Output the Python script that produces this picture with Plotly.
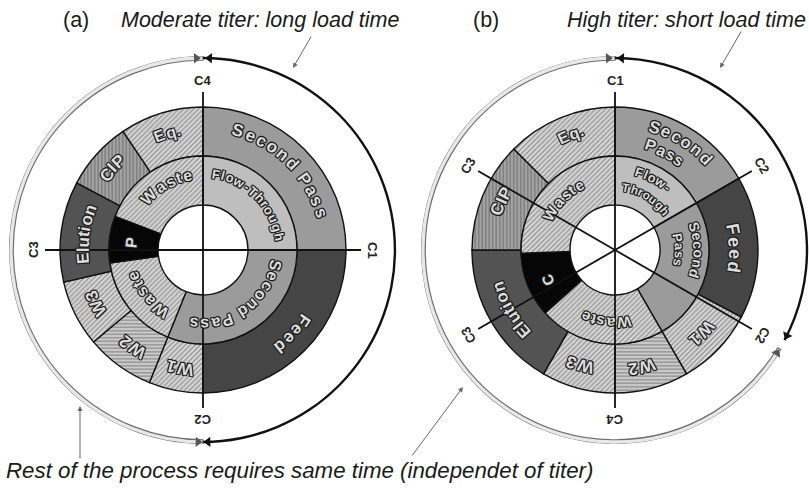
import math
import plotly.graph_objects as go

W, H = 809, 491
R_PX = 194  # polar radius in px; radial axis range [0, R_PX] -> 1 unit = 1 px

HOLE_R, MID_R, OUT_R, ARC_R = 45, 94, 143, 192

# ---------------- data: panel (a) ----------------
a_outer_names = ["Second Pass", "Feed", "W1", "W2", "W3", "Elution", "CIP", "Eq."]
a_outer_edges = [0, 90, 180, 202, 230, 257, 298, 326, 360]
a_mid_names = ["Flow-Through", "Second Pass", "Waste", "P", "Waste"]
a_mid_edges = [0, 90, 202, 262, 291, 360]
a_spokes = [0, 90]
a_spoke_labels = {0: "C4", 90: "C1", 180: "C2", 270: "C3"}
a_black_arc = [0, 180]
a_grey_arc = [180, 360]

# ---------------- data: panel (b) ----------------
b_outer_names = ["Second Pass", "Feed", "W1", "W2", "W3", "Elution", "CIP", "Eq."]
b_outer_edges = [0, 60, 118, 150, 180, 210, 270, 315, 360]
b_mid_names = ["Flow-Through", "Second Pass", "Waste", "C", "Waste"]
b_mid_edges = [0, 60, 150, 228, 268, 360]
b_spokes = [0, 60, 120]
b_spoke_labels = {0: "C1", 60: "C2", 120: "C2", 180: "C4", 240: "C3", 300: "C3"}
b_black_arc = [0, 118]
b_grey_arc = [121, 360]

# label specs: (text, theta, radius, size, spacing)
a_labels = [
    ("Second Pass", 44, 124, 17, 1.27),
    ("Feed", 133, 123, 17, 1.2),
    ("W1", 191, 120, 17, 1.1),
    ("W2", 216, 120, 17, 1.1),
    ("W3", 243.5, 120, 17, 1.1),
    ("Elution", 277.5, 120, 17, 1.05),
    ("CIP", 312, 122, 17, 1.1),
    ("Eq.", 343, 122, 16, 1.1),
    ("Flow-Through", 45, 77, 13, 1.2),
    ("Second Pass", 144, 74, 16, 1.22),
    ("Waste", 231, 74, 16, 1.25),
    ("P", 276, 72, 16, 1.0),
    ("Waste", 330, 76, 16, 1.28),
]
b_labels = [
    ("Second", 31, 129, 17, 1.2),
    ("Pass", 27, 110, 16, 1.15),
    ("Feed", 89, 120, 18, 1.25),
    ("W1", 134, 120, 17, 1.1),
    ("W2", 167, 120, 17, 1.1),
    ("W3", 197, 120, 17, 1.1),
    ("Elution", 240, 122, 17, 1.1),
    ("CIP", 293, 124, 17, 1.1),
    ("Eq.", 339, 124, 16, 1.1),
    ("Flow-", 28, 81, 13, 1.15),
    ("Through", 31, 63, 12, 1.1),
    ("Second", 90, 83, 14, 1.15),
    ("Pass", 90, 64, 13, 1.1),
    ("Waste", 187, 73, 15, 1.2),
    ("C", 246, 74, 15, 1.0),
    ("Waste", 314, 74, 15, 1.2),
]

# fill styles by segment name: (base colour, pattern shape, pattern colour)
styles = {
    "Second Pass": ("#9b9b9b", "", "#9b9b9b"),
    "Feed": ("#454545", "", "#454545"),
    "Flow-Through": ("#bebebe", "", "#bebebe"),
    "Eq.": ("#d8d8d8", "/", "#8a8a8a"),
    "CIP": ("#a4a4a4", "|", "#7a7a7a"),
    "Elution": ("#535353", "", "#535353"),
    "W1": ("#d8d8d8", "/", "#8a8a8a"),
    "W2": ("#cbcbcb", "-", "#a2a2a2"),
    "W3": ("#d8d8d8", "/", "#8a8a8a"),
    "Waste": ("#d8d8d8", "/", "#8a8a8a"),
    "P": ("#060606", "", "#060606"),
    "C": ("#060606", "", "#060606"),
}

panels = {
    "a": dict(center=(203, 250), polar="polar",
              rings=[(a_outer_names, a_outer_edges, MID_R, OUT_R), (a_mid_names, a_mid_edges, HOLE_R, MID_R)],
              spokes=a_spokes, spoke_labels=a_spoke_labels, labels=a_labels,
              black=a_black_arc, grey=a_grey_arc),
    "b": dict(center=(615, 250), polar="polar2",
              rings=[(b_outer_names, b_outer_edges, MID_R, OUT_R), (b_mid_names, b_mid_edges, HOLE_R, MID_R)],
              spokes=b_spokes, spoke_labels=b_spoke_labels, labels=b_labels,
              black=b_black_arc, grey=b_grey_arc),
}

# approx. Arial Bold advance widths (per 1000 em)
CW = {' ': 278, 'S': 667, 'e': 556, 'c': 556, 'o': 611, 'n': 611, 'd': 611, 'P': 667, 'a': 556,
      's': 556, 'F': 611, 'l': 278, 'w': 778, '-': 333, 'T': 611, 'h': 611, 'r': 389, 'u': 611,
      'g': 611, 'W': 944, '1': 556, '2': 556, '3': 556, 'i': 278, 't': 333, 'E': 667, 'q': 611,
      '.': 278, 'C': 722, 'I': 278, 'p': 611}

OUTLINE = "1px 1px 0 #1c1c1c, -1px -1px 0 #1c1c1c, 1px -1px 0 #1c1c1c, -1px 1px 0 #1c1c1c, 0 1px 0 #1c1c1c, 0 -1px 0 #1c1c1c, 1px 0 0 #1c1c1c, -1px 0 0 #1c1c1c"

fig = go.Figure()
annotations = []


def norm_angle(a):
    return ((a + 180) % 360) - 180


def to_paper(center, r, th):
    cx, cy = center
    x = cx + r * math.sin(math.radians(th))
    y = cy - r * math.cos(math.radians(th))
    return x / W, 1 - y / H


for key, p in panels.items():
    pol = p["polar"]
    # ring segments
    for names, edges, r0, r1 in p["rings"]:
        thetas = [(edges[i] + edges[i + 1]) / 2 for i in range(len(names))]
        widths = [edges[i + 1] - edges[i] for i in range(len(names))]
        fig.add_trace(go.Barpolar(
            r=[r1 - r0] * len(names), base=[r0] * len(names), theta=thetas, width=widths,
            marker=dict(
                color=[styles[n][0] for n in names],
                line=dict(color="#111111", width=1.4),
                pattern=dict(shape=[styles[n][1] for n in names],
                             fgcolor=[styles[n][2] for n in names],
                             size=3.5, solidity=0.35, fillmode="overlay"),
            ),
            subplot=pol, showlegend=False, hoverinfo="skip"))
    # outer time arcs
    b0, b1 = p["black"]
    g0, g1 = p["grey"]
    fig.add_trace(go.Barpolar(r=[4.5], base=[ARC_R - 2.25], theta=[(g0 + g1) / 2], width=[g1 - g0],
                              marker=dict(color="#e8e8e8", line=dict(color="#6e6e6e", width=1.2)),
                              subplot=pol, showlegend=False, hoverinfo="skip"))
    fig.add_trace(go.Barpolar(r=[2.4], base=[ARC_R - 1.2], theta=[(b0 + b1) / 2], width=[b1 - b0],
                              marker=dict(color="#111111", line=dict(width=0)),
                              subplot=pol, showlegend=False, hoverinfo="skip"))
    # arrowheads
    tips_th = [b0 + 2, b1 - 1.5, g0 + 1.5, g1 - 2]
    tips_ang = [b0 + 2 + 180, b1 - 1.5, g0 + 1.5 + 180, g1 - 2]
    tips_col = ["#111111", "#111111", "#555555", "#555555"]
    fig.add_trace(go.Scatterpolar(r=[ARC_R] * 4, theta=tips_th, mode="markers",
                                  marker=dict(symbol="triangle-right", size=9, angle=tips_ang,
                                              color=tips_col, line=dict(width=0)),
                                  subplot=pol, showlegend=False, hoverinfo="skip"))
    # spokes
    sr, st = [], []
    for s in p["spokes"]:
        sr += [158, 0, 158, None]
        st += [s, s, s + 180, None]
    fig.add_trace(go.Scatterpolar(r=sr, theta=st, mode="lines", line=dict(color="#111111", width=1.8),
                                  subplot=pol, showlegend=False, hoverinfo="skip", connectgaps=False))
    # spoke labels
    for th, lab in p["spoke_labels"].items():
        x, y = to_paper(p["center"], 170, th)
        annotations.append(dict(x=x, y=y, xref="paper", yref="paper", text=lab, showarrow=False,
                                textangle=norm_angle(th), xanchor="center", yanchor="middle",
                                font=dict(family="Liberation Sans", size=13, color="#222222", weight="bold")))
    # curved segment labels
    for text, thc, r, size, sp in p["labels"]:
        advs = [CW.get(ch, 600) * size / 1000 * sp for ch in text]
        pos = -sum(advs) / 2
        for ch, a in zip(text, advs):
            s = pos + a / 2
            pos += a
            if ch == " ":
                continue
            th = thc + math.degrees(s / r)
            x, y = to_paper(p["center"], r, th)
            annotations.append(dict(x=x, y=y, xref="paper", yref="paper", text=ch, showarrow=False,
                                    textangle=norm_angle(th), xanchor="center", yanchor="middle",
                                    font=dict(family="Liberation Sans", size=size, color="#dcdcdc",
                                              weight="bold", shadow=OUTLINE)))

# titles and notes
TF = dict(family="Liberation Sans", size=21.5, color="#1a1a1a")
BF = dict(family="Liberation Sans", size=22.3, color="#1a1a1a")
annotations += [
    dict(x=76 / W, y=1 - 20 / H, text="(a)", font=TF),
    dict(x=260 / W, y=1 - 20 / H, text="<i>Moderate titer: long load time</i>", font=TF),
    dict(x=486 / W, y=1 - 20 / H, text="(b)", font=TF),
    dict(x=686 / W, y=1 - 20 / H, text="<i>High titer: short load time</i>", font=TF),
    dict(x=299 / W, y=1 - 470 / H, text="<i>Rest of the process requires same time (independet of titer)</i>", font=BF),
]
for ann in annotations[-5:]:
    ann.update(xref="paper", yref="paper", showarrow=False, xanchor="center", yanchor="middle")

# pointer arrows
pointers = [((293, 68), (19, -33)), ((720, 68), (22, -38)), ((80, 406), (0, 54)), ((463, 387), (-52, 70))]
for (tx, ty), (ax, ay) in pointers:
    annotations.append(dict(x=tx / W, y=1 - ty / H, xref="paper", yref="paper", text="", showarrow=True,
                            ax=ax, ay=ay, arrowhead=2, arrowsize=1, arrowwidth=1, arrowcolor="#666666"))

polar_common = dict(
    bgcolor="rgba(0,0,0,0)",
    radialaxis=dict(range=[0, R_PX], visible=False),
    angularaxis=dict(rotation=90, direction="clockwise", visible=False),
)
cxa, cya = panels["a"]["center"]
cxb, cyb = panels["b"]["center"]
fig.update_layout(
    width=W, height=H, margin=dict(l=0, r=0, t=0, b=0),
    paper_bgcolor="white", plot_bgcolor="white",
    polar=dict(domain=dict(x=[(cxa - R_PX) / W, (cxa + R_PX) / W], y=[1 - (cya + R_PX) / H, 1 - (cya - R_PX) / H]),
               **polar_common),
    polar2=dict(domain=dict(x=[(cxb - R_PX) / W, min(1.0, (cxb + R_PX) / W)], y=[1 - (cyb + R_PX) / H, 1 - (cyb - R_PX) / H]),
                **polar_common),
    annotations=annotations,
    showlegend=False,
)

fig.write_html("out.html")
